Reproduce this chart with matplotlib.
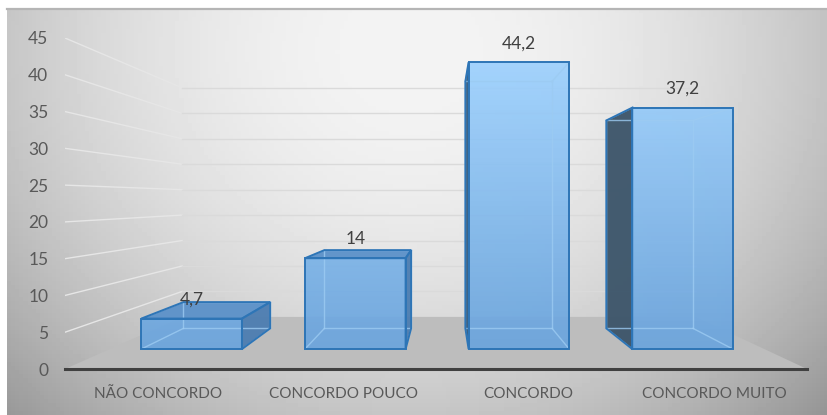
import numpy as np
import matplotlib
matplotlib.use('Agg')
import matplotlib.pyplot as plt
from matplotlib.patches import Polygon
from matplotlib.lines import Line2D
from matplotlib.colors import LinearSegmentedColormap

# dados
categorias = ['NÃO CONCORDO', 'CONCORDO POUCO', 'CONCORDO', 'CONCORDO MUITO']
valores = [4.7, 14, 44.2, 37.2]
yticks = [0, 5, 10, 15, 20, 25, 30, 35, 40, 45]

# perspectiva (ponto de fuga em coordenadas de dados)
VX, VY, K = 1.55, 23.0, 0.445
LARG, D0, D1 = 0.615, 0.30, 0.71


def proj(x, v, d):
    s = 1.0 / (1.0 + K * d)
    return VX + s * (x - VX), VY + s * (v - VY)


plt.rcParams['font.family'] = ['Lato', 'DejaVu Sans']
fig = plt.figure(figsize=(8.28, 4.15), dpi=100)
fig.patch.set_facecolor('white')

# fundo com gradiente
bg = fig.add_axes([7 / 828, 0, 821 / 828, 405 / 415])
gx, gy = np.meshgrid(np.linspace(7, 828, 200), np.linspace(10, 415, 100))
r2 = ((gx - 410) / 480) ** 2 + ((gy - 50) / 430) ** 2
grad = np.clip(0.955 - 0.25 * r2, 0, 1)
bg.imshow(grad, cmap='gray', vmin=0, vmax=1, extent=[0, 1, 0, 1], aspect='auto')
bg.axis('off')
fig.add_artist(Line2D([7 / 828, 1], [405.5 / 415, 405.5 / 415], color='#b5b5b5', lw=1.6))

ax = fig.add_axes([65 / 828, 46 / 415, 742 / 828, 331 / 415])
ax.patch.set_alpha(0)

# paredes: linhas de grade
for g in yticks[1:]:
    p0 = proj(-0.5, g, 0)
    p1 = proj(-0.5, g, 1)
    p2 = proj(3.5, g, 1)
    ax.plot([p0[0], p1[0]], [p0[1], p1[1]], color='#e6e6e6', lw=1, zorder=1)
    ax.plot([p1[0], p2[0]], [p1[1], p2[1]], color='#dadada', lw=1, zorder=1)

# piso
piso = [proj(-0.5, 0, 0), proj(3.5, 0, 0), proj(3.5, 0, 1), proj(-0.5, 0, 1)]
ax.add_patch(Polygon(piso, closed=True, facecolor='#bdbdbd', edgecolor='none', zorder=2))

cmap = LinearSegmentedColormap.from_list('azul', ['#6aa4dd', '#9dd1fe'])
borda = '#2e75b6'

for i, h in enumerate(valores):
    x0, x1 = i - LARG / 2, i + LARG / 2
    # faces laterais / topo visiveis
    faces = []
    if x0 > VX:
        faces.append(([proj(x0, 0, D0), proj(x0, h, D0), proj(x0, h, D1), proj(x0, 0, D1)], '#3b5469'))
    if x1 < VX:
        faces.append(([proj(x1, 0, D0), proj(x1, h, D0), proj(x1, h, D1), proj(x1, 0, D1)], '#4c7db1'))
    if h < VY:
        faces.append(([proj(x0, h, D0), proj(x1, h, D0), proj(x1, h, D1), proj(x0, h, D1)], '#5b91c9'))
    for pts, cor in faces:
        ax.add_patch(Polygon(pts, closed=True, facecolor=cor, edgecolor='none', alpha=0.95, zorder=3))

    # face frontal com gradiente
    fx0, fy0 = proj(x0, 0, D0)
    fx1, fy1 = proj(x1, h, D0)
    g = np.linspace(0, h / 45, 60).reshape(-1, 1)
    ax.imshow(g, cmap=cmap, vmin=0, vmax=1, origin='lower', extent=[fx0, fx1, fy0, fy1],
              aspect='auto', alpha=0.92, zorder=4)

    # arestas escondidas (vistas pela transparencia)
    escondidas = [
        [proj(x0, 0, D1), proj(x1, 0, D1)], [proj(x0, h, D1), proj(x1, h, D1)],
        [proj(x0, 0, D1), proj(x0, h, D1)], [proj(x1, 0, D1), proj(x1, h, D1)],
        [proj(x0, 0, D0), proj(x0, 0, D1)], [proj(x1, 0, D0), proj(x1, 0, D1)],
        [proj(x0, h, D0), proj(x0, h, D1)], [proj(x1, h, D0), proj(x1, h, D1)],
    ]
    for a, b in escondidas:
        ax.plot([a[0], b[0]], [a[1], b[1]], color='#9ccbf2', lw=1, alpha=0.8, zorder=5)

    # contornos visiveis
    for pts, cor in faces:
        ax.add_patch(Polygon(pts, closed=True, facecolor='none', edgecolor=borda, lw=1.4, zorder=6))
    ax.add_patch(Polygon([(fx0, fy0), (fx1, fy0), (fx1, fy1), (fx0, fy1)], closed=True,
                         facecolor='none', edgecolor=borda, lw=1.4, zorder=6))

    # rotulo de dados
    ax.annotate(f'{h:g}'.replace('.', ','), xy=((fx0 + fx1) / 2, fy1), xytext=(0, 13.7),
                textcoords='offset points', ha='center', va='center', fontsize=12.5,
                color='#404040', zorder=7)

ax.set_xlim(-0.5, 3.5)
ax.set_ylim(0, 45)
ax.set_yticks(yticks)
ax.set_yticklabels([str(t) for t in yticks])
ax.set_xticks(range(len(categorias)))
ax.set_xticklabels(categorias)
ax.tick_params(axis='y', length=0, pad=12, labelsize=12.5, labelcolor='#595959')
ax.tick_params(axis='x', length=0, pad=13, labelsize=11, labelcolor='#595959')
for s in ['left', 'right', 'top']:
    ax.spines[s].set_visible(False)
ax.spines['bottom'].set_color('#404040')
ax.spines['bottom'].set_linewidth(2.2)
ax.spines['bottom'].set_zorder(8)

fig.savefig('out.png', dpi=100)
